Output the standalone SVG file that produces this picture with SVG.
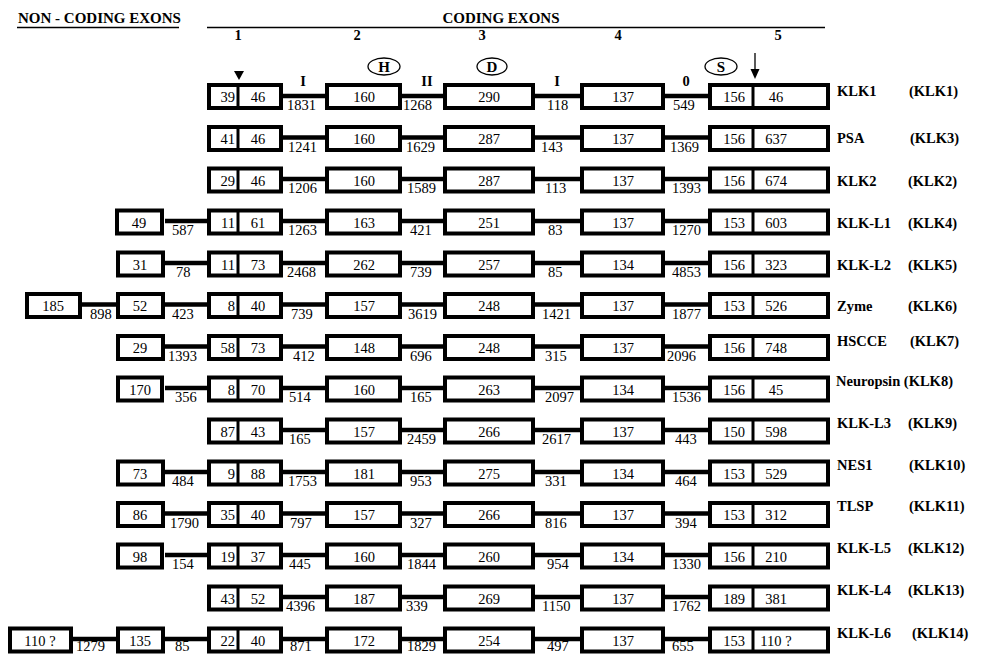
<svg xmlns="http://www.w3.org/2000/svg" width="981" height="654" viewBox="0 0 981 654">
<style>
.box{fill:#fff;stroke:#000;stroke-width:4}
.dv{stroke:#000;stroke-width:3}
.ln{stroke:#000;stroke-width:4.5}
.hl{stroke:#000;stroke-width:1.3}
.t{font-family:"Liberation Serif","Times New Roman",serif;font-size:14.5px;fill:#000}
.c{text-anchor:middle}
.e{text-anchor:end}
.b{font-weight:bold}
.n{font-family:"Liberation Serif","Times New Roman",serif;font-size:14.5px;font-weight:bold;fill:#000}
.ov{fill:#fff;stroke:#000;stroke-width:1.3}
.ol{font-size:15px}
</style>
<rect width="981" height="654" fill="#fff"/>
<g id="header">
<text class="n" x="18" y="23" style="font-size:15px">NON - CODING EXONS</text>
<line class="hl" x1="17" y1="27.5" x2="179" y2="27.5"/>
<text class="n" x="501" y="23" text-anchor="middle" style="font-size:15px">CODING EXONS</text>
<line class="hl" x1="207" y1="27.5" x2="825" y2="27.5"/>
<text class="n c" x="238" y="40">1</text>
<text class="n c" x="357" y="40">2</text>
<text class="n c" x="482" y="40">3</text>
<text class="n c" x="618" y="40">4</text>
<text class="n c" x="778" y="40">5</text>
<ellipse class="ov" cx="384" cy="66.5" rx="16" ry="8.5"/><text class="n c ol" x="384" y="72">H</text>
<ellipse class="ov" cx="492" cy="66.5" rx="15" ry="8.5"/><text class="n c ol" x="492" y="72">D</text>
<ellipse class="ov" cx="721" cy="66.5" rx="16" ry="8.5"/><text class="n c ol" x="721" y="72">S</text>
<polygon points="234,71 244,71 239,80" fill="#000"/>
<line x1="755" y1="53" x2="755" y2="72" stroke="#000" stroke-width="1.3"/>
<polygon points="750.5,69 759.5,69 755,79" fill="#000"/>
<text class="n c" x="303" y="86">I</text>
<text class="n c" x="427" y="86">II</text>
<text class="n c" x="557" y="86">I</text>
<text class="n c" x="686" y="86">0</text>
</g>
<g id="connectors">
<!-- row 0 -->
<line class="ln" x1="283" y1="96" x2="325" y2="96"/><line class="ln" x1="402" y1="96" x2="443" y2="96"/><line class="ln" x1="535" y1="96" x2="580" y2="96"/><line class="ln" x1="665" y1="96" x2="708" y2="96"/>
<text class="t" x="287" y="109.5">1831</text><text class="t" x="403" y="109.5">1268</text><text class="t" x="547" y="109.5">118</text><text class="t" x="673" y="109.5">549</text>
<!-- row 1 -->
<line class="ln" x1="283" y1="137.5" x2="325" y2="137.5"/><line class="ln" x1="402" y1="137.5" x2="443" y2="137.5"/><line class="ln" x1="535" y1="137.5" x2="580" y2="137.5"/><line class="ln" x1="665" y1="137.5" x2="708" y2="137.5"/>
<text class="t" x="288" y="151.5">1241</text><text class="t" x="406" y="151.5">1629</text><text class="t" x="541" y="151.5">143</text><text class="t" x="670" y="151.5">1369</text>
<!-- row 2 -->
<line class="ln" x1="283" y1="179" x2="325" y2="179"/><line class="ln" x1="402" y1="179" x2="443" y2="179"/><line class="ln" x1="535" y1="179" x2="580" y2="179"/><line class="ln" x1="665" y1="179" x2="708" y2="179"/>
<text class="t" x="288" y="193">1206</text><text class="t" x="407" y="193">1589</text><text class="t" x="545" y="193">113</text><text class="t" x="672" y="193">1393</text>
<!-- row 3 -->
<line class="ln" x1="165" y1="221" x2="207" y2="221"/><line class="ln" x1="283" y1="221" x2="325" y2="221"/><line class="ln" x1="402" y1="221" x2="443" y2="221"/><line class="ln" x1="535" y1="221" x2="580" y2="221"/><line class="ln" x1="665" y1="221" x2="708" y2="221"/>
<text class="t" x="172" y="235">587</text><text class="t" x="288" y="235">1263</text><text class="t" x="410" y="235">421</text><text class="t" x="548" y="235">83</text><text class="t" x="672" y="235">1270</text>
<!-- row 4 -->
<line class="ln" x1="165" y1="263" x2="207" y2="263"/><line class="ln" x1="283" y1="263" x2="325" y2="263"/><line class="ln" x1="402" y1="263" x2="443" y2="263"/><line class="ln" x1="535" y1="263" x2="580" y2="263"/><line class="ln" x1="665" y1="263" x2="708" y2="263"/>
<text class="t" x="176" y="277">78</text><text class="t" x="287" y="277">2468</text><text class="t" x="410" y="277">739</text><text class="t" x="548" y="277">85</text><text class="t" x="672" y="277">4853</text>
<!-- row 5 -->
<line class="ln" x1="82" y1="304.5" x2="116" y2="304.5"/><line class="ln" x1="165" y1="304.5" x2="207" y2="304.5"/><line class="ln" x1="283" y1="304.5" x2="325" y2="304.5"/><line class="ln" x1="402" y1="304.5" x2="443" y2="304.5"/><line class="ln" x1="535" y1="304.5" x2="580" y2="304.5"/><line class="ln" x1="665" y1="304.5" x2="708" y2="304.5"/>
<text class="t" x="90" y="318.5">898</text><text class="t" x="172" y="318.5">423</text><text class="t" x="291" y="318.5">739</text><text class="t" x="408" y="318.5">3619</text><text class="t" x="542" y="318.5">1421</text><text class="t" x="672" y="318.5">1877</text>
<!-- row 6 -->
<line class="ln" x1="165" y1="346.5" x2="207" y2="346.5"/><line class="ln" x1="283" y1="346.5" x2="325" y2="346.5"/><line class="ln" x1="402" y1="346.5" x2="443" y2="346.5"/><line class="ln" x1="535" y1="346.5" x2="580" y2="346.5"/><line class="ln" x1="665" y1="346.5" x2="708" y2="346.5"/>
<text class="t" x="168" y="360.5">1393</text><text class="t" x="293" y="360.5">412</text><text class="t" x="410" y="360.5">696</text><text class="t" x="545" y="360.5">315</text><text class="t" x="667" y="360.5">2096</text>
<!-- row 7 -->
<line class="ln" x1="165" y1="388" x2="207" y2="388"/><line class="ln" x1="283" y1="388" x2="325" y2="388"/><line class="ln" x1="402" y1="388" x2="443" y2="388"/><line class="ln" x1="535" y1="388" x2="580" y2="388"/><line class="ln" x1="665" y1="388" x2="708" y2="388"/>
<text class="t" x="175" y="402">356</text><text class="t" x="289" y="402">514</text><text class="t" x="410" y="402">165</text><text class="t" x="545" y="402">2097</text><text class="t" x="672" y="402">1536</text>
<!-- row 8 -->
<line class="ln" x1="283" y1="430" x2="325" y2="430"/><line class="ln" x1="402" y1="430" x2="443" y2="430"/><line class="ln" x1="535" y1="430" x2="580" y2="430"/><line class="ln" x1="665" y1="430" x2="708" y2="430"/>
<text class="t" x="289" y="444">165</text><text class="t" x="407" y="444">2459</text><text class="t" x="542" y="444">2617</text><text class="t" x="675" y="444">443</text>
<!-- row 9 -->
<line class="ln" x1="165" y1="472" x2="207" y2="472"/><line class="ln" x1="283" y1="472" x2="325" y2="472"/><line class="ln" x1="402" y1="472" x2="443" y2="472"/><line class="ln" x1="535" y1="472" x2="580" y2="472"/><line class="ln" x1="665" y1="472" x2="708" y2="472"/>
<text class="t" x="172" y="486">484</text><text class="t" x="288" y="486">1753</text><text class="t" x="410" y="486">953</text><text class="t" x="545" y="486">331</text><text class="t" x="675" y="486">464</text>
<!-- row 10 -->
<line class="ln" x1="165" y1="513.5" x2="207" y2="513.5"/><line class="ln" x1="283" y1="513.5" x2="325" y2="513.5"/><line class="ln" x1="402" y1="513.5" x2="443" y2="513.5"/><line class="ln" x1="535" y1="513.5" x2="580" y2="513.5"/><line class="ln" x1="665" y1="513.5" x2="708" y2="513.5"/>
<text class="t" x="170" y="527.5">1790</text><text class="t" x="290" y="527.5">797</text><text class="t" x="410" y="527.5">327</text><text class="t" x="545" y="527.5">816</text><text class="t" x="675" y="527.5">394</text>
<!-- row 11 -->
<line class="ln" x1="165" y1="555" x2="207" y2="555"/><line class="ln" x1="283" y1="555" x2="325" y2="555"/><line class="ln" x1="402" y1="555" x2="443" y2="555"/><line class="ln" x1="535" y1="555" x2="580" y2="555"/><line class="ln" x1="665" y1="555" x2="708" y2="555"/>
<text class="t" x="172" y="569">154</text><text class="t" x="289" y="569">445</text><text class="t" x="407" y="569">1844</text><text class="t" x="547" y="569">954</text><text class="t" x="672" y="569">1330</text>
<!-- row 12 -->
<line class="ln" x1="283" y1="597" x2="325" y2="597"/><line class="ln" x1="402" y1="597" x2="443" y2="597"/><line class="ln" x1="535" y1="597" x2="580" y2="597"/><line class="ln" x1="665" y1="597" x2="708" y2="597"/>
<text class="t" x="286" y="611">4396</text><text class="t" x="406" y="611">339</text><text class="t" x="542" y="611">1150</text><text class="t" x="672" y="611">1762</text>
<!-- row 13 -->
<line class="ln" x1="73" y1="639" x2="116" y2="639"/><line class="ln" x1="165" y1="639" x2="207" y2="639"/><line class="ln" x1="283" y1="639" x2="325" y2="639"/><line class="ln" x1="402" y1="639" x2="443" y2="639"/><line class="ln" x1="535" y1="639" x2="580" y2="639"/><line class="ln" x1="665" y1="639" x2="708" y2="639"/>
<text class="t" x="76" y="651">1279</text><text class="t" x="175" y="651">85</text><text class="t" x="290" y="651">871</text><text class="t" x="407" y="651">1829</text><text class="t" x="547" y="651">497</text><text class="t" x="672" y="651">655</text>
</g>

<!-- ROW 0 KLK1 -->
<g id="klk1-ex1"><rect class="box" x="209" y="85" width="72" height="23"/><line class="dv" x1="238" y1="85" x2="238" y2="108"/><text class="t e" x="235" y="102">39</text><text class="t c" x="258" y="102">46</text></g>
<g id="klk1-ex2"><rect class="box" x="327" y="85" width="73" height="23"/><text class="t c" x="364" y="102">160</text></g>
<g id="klk1-ex3"><rect class="box" x="445" y="85" width="88" height="23"/><text class="t c" x="489" y="102">290</text></g>
<g id="klk1-ex4"><rect class="box" x="582" y="85" width="81" height="23"/><text class="t c" x="623" y="102">137</text></g>
<g id="klk1-ex5"><rect class="box" x="710" y="85" width="118" height="23"/><line class="dv" x1="753" y1="85" x2="753" y2="108"/><text class="t c" x="734" y="102">156</text><text class="t c" x="776" y="102">46</text></g>
<g id="klk1-name"><text class="n" x="837" y="95.5">KLK1</text><text class="n" x="909" y="95.5">(KLK1)</text></g>

<!-- ROW 1 PSA -->
<g id="psa-ex1"><rect class="box" x="209" y="127" width="72" height="23"/><line class="dv" x1="238" y1="127" x2="238" y2="150"/><text class="t e" x="235" y="144">41</text><text class="t c" x="258" y="144">46</text></g>
<g id="psa-ex2"><rect class="box" x="327" y="127" width="73" height="23"/><text class="t c" x="364" y="144">160</text></g>
<g id="psa-ex3"><rect class="box" x="445" y="127" width="88" height="23"/><text class="t c" x="489" y="144">287</text></g>
<g id="psa-ex4"><rect class="box" x="582" y="127" width="81" height="23"/><text class="t c" x="623" y="144">137</text></g>
<g id="psa-ex5"><rect class="box" x="710" y="127" width="118" height="23"/><line class="dv" x1="753" y1="127" x2="753" y2="150"/><text class="t c" x="734" y="144">156</text><text class="t c" x="776" y="144">637</text></g>
<g id="psa-name"><text class="n" x="837" y="142.5">PSA</text><text class="n" x="910" y="142.5">(KLK3)</text></g>

<!-- ROW 2 KLK2 -->
<g id="klk2-ex1"><rect class="box" x="209" y="168.5" width="72" height="23"/><line class="dv" x1="238" y1="168.5" x2="238" y2="191.5"/><text class="t e" x="235" y="185.5">29</text><text class="t c" x="258" y="185.5">46</text></g>
<g id="klk2-ex2"><rect class="box" x="327" y="168.5" width="73" height="23"/><text class="t c" x="364" y="185.5">160</text></g>
<g id="klk2-ex3"><rect class="box" x="445" y="168.5" width="88" height="23"/><text class="t c" x="489" y="185.5">287</text></g>
<g id="klk2-ex4"><rect class="box" x="582" y="168.5" width="81" height="23"/><text class="t c" x="623" y="185.5">137</text></g>
<g id="klk2-ex5"><rect class="box" x="710" y="168.5" width="118" height="23"/><line class="dv" x1="753" y1="168.5" x2="753" y2="191.5"/><text class="t c" x="734" y="185.5">156</text><text class="t c" x="776" y="185.5">674</text></g>
<g id="klk2-name"><text class="n" x="837" y="186">KLK2</text><text class="n" x="908" y="186">(KLK2)</text></g>

<!-- ROW 3 KLK-L1 -->
<g id="klkl1-nc"><rect class="box" x="117" y="210.5" width="45" height="23"/><text class="t c" x="139" y="227.5">49</text></g>
<g id="klkl1-ex1"><rect class="box" x="209" y="210.5" width="72" height="23"/><line class="dv" x1="238" y1="210.5" x2="238" y2="233.5"/><text class="t e" x="235" y="227.5">11</text><text class="t c" x="258" y="227.5">61</text></g>
<g id="klkl1-ex2"><rect class="box" x="327" y="210.5" width="73" height="23"/><text class="t c" x="364" y="227.5">163</text></g>
<g id="klkl1-ex3"><rect class="box" x="445" y="210.5" width="88" height="23"/><text class="t c" x="489" y="227.5">251</text></g>
<g id="klkl1-ex4"><rect class="box" x="582" y="210.5" width="81" height="23"/><text class="t c" x="623" y="227.5">137</text></g>
<g id="klkl1-ex5"><rect class="box" x="710" y="210.5" width="118" height="23"/><line class="dv" x1="753" y1="210.5" x2="753" y2="233.5"/><text class="t c" x="734" y="227.5">153</text><text class="t c" x="776" y="227.5">603</text></g>
<g id="klkl1-name"><text class="n" x="837" y="228">KLK-L1</text><text class="n" x="908" y="228">(KLK4)</text></g>

<!-- ROW 4 KLK-L2 -->
<g id="klkl2-nc"><rect class="box" x="118" y="252.5" width="45" height="23"/><text class="t c" x="140" y="269.5">31</text></g>
<g id="klkl2-ex1"><rect class="box" x="209" y="252.5" width="72" height="23"/><line class="dv" x1="238" y1="252.5" x2="238" y2="275.5"/><text class="t e" x="235" y="269.5">11</text><text class="t c" x="258" y="269.5">73</text></g>
<g id="klkl2-ex2"><rect class="box" x="327" y="252.5" width="73" height="23"/><text class="t c" x="364" y="269.5">262</text></g>
<g id="klkl2-ex3"><rect class="box" x="445" y="252.5" width="88" height="23"/><text class="t c" x="489" y="269.5">257</text></g>
<g id="klkl2-ex4"><rect class="box" x="582" y="252.5" width="81" height="23"/><text class="t c" x="623" y="269.5">134</text></g>
<g id="klkl2-ex5"><rect class="box" x="710" y="252.5" width="118" height="23"/><line class="dv" x1="753" y1="252.5" x2="753" y2="275.5"/><text class="t c" x="734" y="269.5">156</text><text class="t c" x="776" y="269.5">323</text></g>
<g id="klkl2-name"><text class="n" x="837" y="270">KLK-L2</text><text class="n" x="908" y="270">(KLK5)</text></g>

<!-- ROW 5 Zyme -->
<g id="zyme-nc1"><rect class="box" x="27" y="294" width="53" height="23"/><text class="t c" x="53" y="311">185</text></g>
<g id="zyme-nc2"><rect class="box" x="118" y="294" width="45" height="23"/><text class="t c" x="140" y="311">52</text></g>
<g id="zyme-ex1"><rect class="box" x="209" y="294" width="72" height="23"/><line class="dv" x1="238" y1="294" x2="238" y2="317"/><text class="t e" x="235" y="311">8</text><text class="t c" x="258" y="311">40</text></g>
<g id="zyme-ex2"><rect class="box" x="327" y="294" width="73" height="23"/><text class="t c" x="364" y="311">157</text></g>
<g id="zyme-ex3"><rect class="box" x="445" y="294" width="88" height="23"/><text class="t c" x="489" y="311">248</text></g>
<g id="zyme-ex4"><rect class="box" x="582" y="294" width="81" height="23"/><text class="t c" x="623" y="311">137</text></g>
<g id="zyme-ex5"><rect class="box" x="710" y="294" width="118" height="23"/><line class="dv" x1="753" y1="294" x2="753" y2="317"/><text class="t c" x="734" y="311">153</text><text class="t c" x="776" y="311">526</text></g>
<g id="zyme-name"><text class="n" x="837" y="310.5">Zyme</text><text class="n" x="908" y="310.5">(KLK6)</text></g>

<!-- ROW 6 HSCCE -->
<g id="hscce-nc"><rect class="box" x="118" y="336" width="45" height="23"/><text class="t c" x="140" y="353">29</text></g>
<g id="hscce-ex1"><rect class="box" x="209" y="336" width="72" height="23"/><line class="dv" x1="238" y1="336" x2="238" y2="359"/><text class="t e" x="235" y="353">58</text><text class="t c" x="258" y="353">73</text></g>
<g id="hscce-ex2"><rect class="box" x="327" y="336" width="73" height="23"/><text class="t c" x="364" y="353">148</text></g>
<g id="hscce-ex3"><rect class="box" x="445" y="336" width="88" height="23"/><text class="t c" x="489" y="353">248</text></g>
<g id="hscce-ex4"><rect class="box" x="582" y="336" width="81" height="23"/><text class="t c" x="623" y="353">137</text></g>
<g id="hscce-ex5"><rect class="box" x="710" y="336" width="118" height="23"/><line class="dv" x1="753" y1="336" x2="753" y2="359"/><text class="t c" x="734" y="353">156</text><text class="t c" x="776" y="353">748</text></g>
<g id="hscce-name"><text class="n" x="837" y="345.5">HSCCE</text><text class="n" x="910" y="345.5">(KLK7)</text></g>

<!-- ROW 7 Neuropsin -->
<g id="neuropsin-nc"><rect class="box" x="118" y="377.5" width="44" height="23"/><text class="t c" x="140" y="394.5">170</text></g>
<g id="neuropsin-ex1"><rect class="box" x="209" y="377.5" width="72" height="23"/><line class="dv" x1="238" y1="377.5" x2="238" y2="400.5"/><text class="t e" x="235" y="394.5">8</text><text class="t c" x="258" y="394.5">70</text></g>
<g id="neuropsin-ex2"><rect class="box" x="327" y="377.5" width="73" height="23"/><text class="t c" x="364" y="394.5">160</text></g>
<g id="neuropsin-ex3"><rect class="box" x="445" y="377.5" width="88" height="23"/><text class="t c" x="489" y="394.5">263</text></g>
<g id="neuropsin-ex4"><rect class="box" x="582" y="377.5" width="81" height="23"/><text class="t c" x="623" y="394.5">134</text></g>
<g id="neuropsin-ex5"><rect class="box" x="710" y="377.5" width="118" height="23"/><line class="dv" x1="753" y1="377.5" x2="753" y2="400.5"/><text class="t c" x="734" y="394.5">156</text><text class="t c" x="776" y="394.5">45</text></g>
<g id="neuropsin-name"><text class="n" x="836" y="386">Neuropsin (KLK8)</text></g>

<!-- ROW 8 KLK-L3 -->
<g id="klkl3-ex1"><rect class="box" x="209" y="419.5" width="72" height="23"/><line class="dv" x1="238" y1="419.5" x2="238" y2="442.5"/><text class="t e" x="235" y="436.5">87</text><text class="t c" x="258" y="436.5">43</text></g>
<g id="klkl3-ex2"><rect class="box" x="327" y="419.5" width="73" height="23"/><text class="t c" x="364" y="436.5">157</text></g>
<g id="klkl3-ex3"><rect class="box" x="445" y="419.5" width="88" height="23"/><text class="t c" x="489" y="436.5">266</text></g>
<g id="klkl3-ex4"><rect class="box" x="582" y="419.5" width="81" height="23"/><text class="t c" x="623" y="436.5">137</text></g>
<g id="klkl3-ex5"><rect class="box" x="710" y="419.5" width="118" height="23"/><line class="dv" x1="753" y1="419.5" x2="753" y2="442.5"/><text class="t c" x="734" y="436.5">150</text><text class="t c" x="776" y="436.5">598</text></g>
<g id="klkl3-name"><text class="n" x="837" y="428">KLK-L3</text><text class="n" x="908" y="428">(KLK9)</text></g>

<!-- ROW 9 NES1 -->
<g id="nes1-nc"><rect class="box" x="118" y="461.5" width="45" height="23"/><text class="t c" x="140" y="478.5">73</text></g>
<g id="nes1-ex1"><rect class="box" x="209" y="461.5" width="72" height="23"/><line class="dv" x1="238" y1="461.5" x2="238" y2="484.5"/><text class="t e" x="235" y="478.5">9</text><text class="t c" x="258" y="478.5">88</text></g>
<g id="nes1-ex2"><rect class="box" x="327" y="461.5" width="73" height="23"/><text class="t c" x="364" y="478.5">181</text></g>
<g id="nes1-ex3"><rect class="box" x="445" y="461.5" width="88" height="23"/><text class="t c" x="489" y="478.5">275</text></g>
<g id="nes1-ex4"><rect class="box" x="582" y="461.5" width="81" height="23"/><text class="t c" x="623" y="478.5">134</text></g>
<g id="nes1-ex5"><rect class="box" x="710" y="461.5" width="118" height="23"/><line class="dv" x1="753" y1="461.5" x2="753" y2="484.5"/><text class="t c" x="734" y="478.5">153</text><text class="t c" x="776" y="478.5">529</text></g>
<g id="nes1-name"><text class="n" x="837" y="470">NES1</text><text class="n" x="909" y="470">(KLK10)</text></g>

<!-- ROW 10 TLSP -->
<g id="tlsp-nc"><rect class="box" x="118" y="503" width="45" height="23"/><text class="t c" x="140" y="520">86</text></g>
<g id="tlsp-ex1"><rect class="box" x="209" y="503" width="72" height="23"/><line class="dv" x1="238" y1="503" x2="238" y2="526"/><text class="t e" x="235" y="520">35</text><text class="t c" x="258" y="520">40</text></g>
<g id="tlsp-ex2"><rect class="box" x="327" y="503" width="73" height="23"/><text class="t c" x="364" y="520">157</text></g>
<g id="tlsp-ex3"><rect class="box" x="445" y="503" width="88" height="23"/><text class="t c" x="489" y="520">266</text></g>
<g id="tlsp-ex4"><rect class="box" x="582" y="503" width="81" height="23"/><text class="t c" x="623" y="520">137</text></g>
<g id="tlsp-ex5"><rect class="box" x="710" y="503" width="118" height="23"/><line class="dv" x1="753" y1="503" x2="753" y2="526"/><text class="t c" x="734" y="520">153</text><text class="t c" x="776" y="520">312</text></g>
<g id="tlsp-name"><text class="n" x="837" y="510.5">TLSP</text><text class="n" x="909" y="510.5">(KLK11)</text></g>

<!-- ROW 11 KLK-L5 -->
<g id="klkl5-nc"><rect class="box" x="118" y="544.5" width="44" height="23"/><text class="t c" x="140" y="561.5">98</text></g>
<g id="klkl5-ex1"><rect class="box" x="209" y="544.5" width="72" height="23"/><line class="dv" x1="238" y1="544.5" x2="238" y2="567.5"/><text class="t e" x="235" y="561.5">19</text><text class="t c" x="258" y="561.5">37</text></g>
<g id="klkl5-ex2"><rect class="box" x="327" y="544.5" width="73" height="23"/><text class="t c" x="364" y="561.5">160</text></g>
<g id="klkl5-ex3"><rect class="box" x="445" y="544.5" width="88" height="23"/><text class="t c" x="489" y="561.5">260</text></g>
<g id="klkl5-ex4"><rect class="box" x="582" y="544.5" width="81" height="23"/><text class="t c" x="623" y="561.5">134</text></g>
<g id="klkl5-ex5"><rect class="box" x="710" y="544.5" width="118" height="23"/><line class="dv" x1="753" y1="544.5" x2="753" y2="567.5"/><text class="t c" x="734" y="561.5">156</text><text class="t c" x="776" y="561.5">210</text></g>
<g id="klkl5-name"><text class="n" x="837" y="553">KLK-L5</text><text class="n" x="908" y="553">(KLK12)</text></g>

<!-- ROW 12 KLK-L4 -->
<g id="klkl4-ex1"><rect class="box" x="209" y="586.5" width="72" height="23"/><line class="dv" x1="238" y1="586.5" x2="238" y2="609.5"/><text class="t e" x="235" y="603.5">43</text><text class="t c" x="258" y="603.5">52</text></g>
<g id="klkl4-ex2"><rect class="box" x="327" y="586.5" width="73" height="23"/><text class="t c" x="364" y="603.5">187</text></g>
<g id="klkl4-ex3"><rect class="box" x="445" y="586.5" width="88" height="23"/><text class="t c" x="489" y="603.5">269</text></g>
<g id="klkl4-ex4"><rect class="box" x="582" y="586.5" width="81" height="23"/><text class="t c" x="623" y="603.5">137</text></g>
<g id="klkl4-ex5"><rect class="box" x="710" y="586.5" width="118" height="23"/><line class="dv" x1="753" y1="586.5" x2="753" y2="609.5"/><text class="t c" x="734" y="603.5">189</text><text class="t c" x="776" y="603.5">381</text></g>
<g id="klkl4-name"><text class="n" x="837" y="595">KLK-L4</text><text class="n" x="908" y="595">(KLK13)</text></g>

<!-- ROW 13 KLK-L6 -->
<g id="klkl6-nc1"><rect class="box" x="10" y="628.5" width="61" height="23"/><text class="t c" x="40" y="645.5">110 ?</text></g>
<g id="klkl6-nc2"><rect class="box" x="118" y="628.5" width="45" height="23"/><text class="t c" x="140" y="645.5">135</text></g>
<g id="klkl6-ex1"><rect class="box" x="209" y="628.5" width="72" height="23"/><line class="dv" x1="238" y1="628.5" x2="238" y2="651.5"/><text class="t e" x="235" y="645.5">22</text><text class="t c" x="258" y="645.5">40</text></g>
<g id="klkl6-ex2"><rect class="box" x="327" y="628.5" width="73" height="23"/><text class="t c" x="364" y="645.5">172</text></g>
<g id="klkl6-ex3"><rect class="box" x="445" y="628.5" width="88" height="23"/><text class="t c" x="489" y="645.5">254</text></g>
<g id="klkl6-ex4"><rect class="box" x="582" y="628.5" width="81" height="23"/><text class="t c" x="623" y="645.5">137</text></g>
<g id="klkl6-ex5"><rect class="box" x="710" y="628.5" width="118" height="23"/><line class="dv" x1="753" y1="628.5" x2="753" y2="651.5"/><text class="t c" x="734" y="645.5">153</text><text class="t c" x="776" y="645.5">110 ?</text></g>
<g id="klkl6-name"><text class="n" x="837" y="638">KLK-L6</text><text class="n" x="912" y="638">(KLK14)</text></g>
</svg>
